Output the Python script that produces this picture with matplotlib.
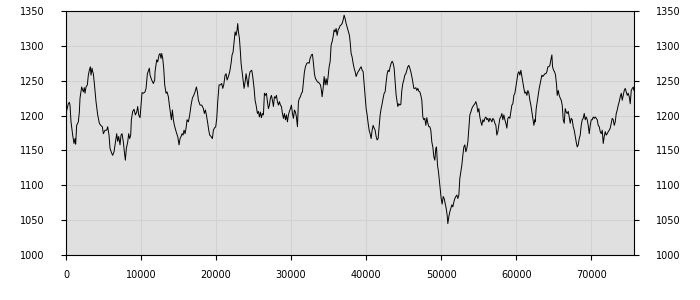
import matplotlib
matplotlib.use("Agg")
import matplotlib.pyplot as plt
import numpy as np

# ---- data ----
x_seg1 = [0, 311, 444, 533, 667, 889, 1067, 1200, 1289, 1422, 1644, 1778, 1867, 2089, 2311, 2444, 2533, 2667, 2844, 2978,
          3111, 3244, 3333, 3467, 3556, 3644, 3778, 4000, 4222, 4444, 4622, 4844, 4978, 5200, 5422, 5556, 5733, 5867, 6089, 6222,
          6400, 6533, 6667, 6756, 6889, 7022, 7200, 7333, 7467, 7644, 7778, 7911, 8044, 8222, 8356, 8489, 8622, 8711, 8889, 9067,
          9244, 9422, 9556, 9689, 9867, 10000, 10133, 10311, 10533, 10667, 10844, 10978, 11111, 11200, 11422, 11644, 11822]
y_seg1 = [1203, 1217, 1219, 1215, 1191, 1172, 1160, 1167, 1159, 1186, 1191, 1205, 1225, 1241, 1234, 1240, 1232, 1241, 1244, 1258,
          1265, 1270, 1258, 1268, 1263, 1260, 1246, 1220, 1201, 1189, 1186, 1184, 1174, 1179, 1179, 1184, 1172, 1153, 1146, 1143,
          1148, 1158, 1167, 1174, 1163, 1170, 1158, 1172, 1174, 1162, 1148, 1136, 1153, 1162, 1174, 1167, 1172, 1194, 1206, 1209,
          1201, 1205, 1213, 1201, 1197, 1215, 1233, 1232, 1234, 1239, 1260, 1264, 1268, 1258, 1251, 1246, 1251]

x_seg2 = [11867, 12089, 12222, 12400, 12533, 12667, 12756, 12889, 13022, 13156, 13333, 13467, 13644, 13778, 13911, 14044, 14178, 14311, 14444, 14622,
          14756, 14889, 15067, 15200, 15333, 15467, 15600, 15733, 15867, 16000, 16133, 16311, 16489, 16667, 16844, 17022, 17200, 17378, 17511, 17644,
          17867, 18089, 18311, 18444, 18578, 18711, 18889, 19022, 19156, 19333, 19511, 19644, 19778, 19956, 20089, 20222, 20400, 20578, 20756, 20889,
          21022, 21200, 21333, 21467, 21644, 21822, 22000, 22133, 22267, 22400, 22533, 22667, 22800, 22889, 22978, 23111, 23244, 23333, 23467, 23600,
          23733, 23867, 24000, 24133, 24267, 24400]
y_seg2 = [1263, 1280, 1277, 1287, 1289, 1282, 1289, 1282, 1268, 1244, 1232, 1234, 1227, 1215, 1205, 1194, 1208, 1194, 1186, 1179,
          1174, 1170, 1158, 1167, 1170, 1174, 1172, 1179, 1174, 1182, 1194, 1191, 1201, 1215, 1225, 1229, 1234, 1241, 1234, 1222,
          1215, 1215, 1210, 1203, 1208, 1201, 1189, 1179, 1172, 1170, 1167, 1179, 1182, 1184, 1196, 1220, 1244, 1244, 1246, 1239,
          1244, 1258, 1260, 1251, 1256, 1263, 1275, 1287, 1291, 1306, 1320, 1315, 1323, 1332, 1320, 1311, 1291, 1275, 1263, 1251,
          1239, 1248, 1260, 1251, 1241, 1256]

x_seg3 = [24533, 24756, 24889, 25067, 25200, 25333, 25511, 25644, 25778, 25911, 26044, 26178, 26311, 26444, 26578, 26711, 26844, 26978, 27111, 27244,
          27378, 27511, 27644, 27778, 27911, 28044, 28178, 28311, 28444, 28578, 28711, 28844, 28978, 29111, 29244, 29378, 29511, 29644, 29778, 29911,
          30044, 30178, 30311, 30444, 30578, 30711, 30844, 30978, 31111, 31244, 31378, 31511, 31644, 31778, 31911, 32089, 32267, 32400, 32533, 32711,
          32844, 32978, 33111, 33244, 33378, 33511, 33644, 33778, 33911, 34044, 34133, 34267, 34400, 34533, 34667, 34800, 34933, 35067, 35200, 35333,
          35467, 35600, 35733, 35867, 36000, 36133, 36267, 36400, 36533, 36667, 36800, 36933, 37067]
y_seg3 = [1263, 1265, 1256, 1239, 1222, 1215, 1203, 1206, 1198, 1205, 1197, 1203, 1201, 1232, 1229, 1232, 1220, 1210, 1215, 1225,
          1229, 1222, 1213, 1227, 1225, 1229, 1220, 1215, 1220, 1215, 1213, 1203, 1196, 1203, 1194, 1201, 1191, 1201, 1206, 1210,
          1215, 1203, 1196, 1208, 1205, 1198, 1184, 1220, 1225, 1227, 1232, 1234, 1248, 1263, 1270, 1275, 1276, 1275, 1282, 1287,
          1288, 1275, 1260, 1253, 1251, 1248, 1248, 1246, 1244, 1236, 1227, 1239, 1256, 1244, 1253, 1244, 1256, 1270, 1277, 1301,
          1306, 1313, 1323, 1320, 1325, 1315, 1323, 1325, 1329, 1330, 1332, 1337, 1344]

x_seg4 = [37200, 37333, 37467, 37644, 37778, 37867, 38000, 38133, 38267, 38400, 38533, 38667, 38800, 38933, 39067, 39200, 39333, 39467, 39600, 39733,
          39867, 40000, 40133, 40267, 40400, 40533, 40667, 40800, 40933, 41067, 41200, 41333, 41467, 41600, 41733, 41867, 42000, 42133, 42267, 42400,
          42533, 42667, 42800, 42933, 43067, 43200, 43333, 43467, 43600, 43733, 43867, 44000, 44133, 44222, 44356, 44489, 44622, 44756, 44889, 45022,
          45156, 45289, 45422, 45556, 45689, 45822, 45956, 46089, 46222, 46356, 46489, 46622, 46756, 46889, 47022, 47156, 47289, 47422, 47556, 47689,
          47822, 47956, 48089, 48222, 48356, 48489, 48622, 48756, 48889, 49022, 49156, 49289, 49378, 49511, 49644, 49778]
y_seg4 = [1339, 1332, 1327, 1320, 1315, 1306, 1289, 1284, 1275, 1268, 1263, 1256, 1260, 1263, 1265, 1268, 1270, 1265, 1263, 1246,
          1229, 1210, 1201, 1189, 1179, 1174, 1167, 1179, 1186, 1182, 1179, 1170, 1165, 1167, 1184, 1201, 1210, 1217, 1225, 1232,
          1234, 1248, 1260, 1265, 1263, 1270, 1275, 1278, 1275, 1268, 1248, 1229, 1220, 1213, 1217, 1215, 1216, 1236, 1246, 1251,
          1258, 1260, 1265, 1270, 1272, 1268, 1263, 1256, 1248, 1239, 1239, 1240, 1236, 1239, 1235, 1234, 1229, 1222, 1198, 1194,
          1196, 1186, 1197, 1189, 1184, 1184, 1179, 1162, 1155, 1141, 1136, 1153, 1155, 1129, 1119, 1105]

x_seg5 = [49867, 50000, 50133, 50267, 50400, 50533, 50667, 50800, 50889, 51022, 51156, 51289, 51422, 51556, 51689, 51822, 51956, 52089, 52222, 52356,
          52489, 52622, 52756, 52889, 53022, 53156, 53289, 53422, 53556, 53689, 53822, 53956, 54089, 54222, 54356, 54489, 54622, 54756, 54889, 55022,
          55156, 55289, 55422, 55556, 55689, 55822, 55956, 56089, 56222, 56356, 56489, 56622, 56756, 56889, 57022, 57156, 57289, 57422, 57556, 57689,
          57822, 57956, 58089, 58222, 58356, 58489, 58622, 58756, 58889, 59022, 59156, 59289, 59422, 59556, 59689, 59822, 59956, 60089, 60222, 60356,
          60489, 60622, 60756, 60889, 61022, 61156, 61289, 61422, 61556, 61689, 61822, 61956, 62089, 62222, 62356, 62489]
y_seg5 = [1096, 1081, 1073, 1084, 1081, 1074, 1067, 1057, 1045, 1055, 1062, 1067, 1072, 1069, 1076, 1081, 1084, 1086, 1081, 1086,
          1110, 1119, 1129, 1143, 1155, 1158, 1148, 1153, 1162, 1182, 1201, 1205, 1210, 1213, 1215, 1217, 1220, 1215, 1205, 1210,
          1198, 1191, 1186, 1194, 1191, 1196, 1198, 1194, 1196, 1191, 1196, 1194, 1191, 1196, 1194, 1189, 1186, 1172, 1177, 1186,
          1196, 1198, 1203, 1194, 1201, 1194, 1189, 1182, 1196, 1198, 1196, 1205, 1215, 1217, 1229, 1232, 1241, 1251, 1260, 1263,
          1258, 1265, 1256, 1248, 1239, 1232, 1234, 1229, 1236, 1232, 1222, 1215, 1205, 1194, 1186, 1194]

x_seg6 = [62533, 62667, 62800, 62933, 63067, 63200, 63333, 63422, 63556, 63689, 63822, 63956, 64089, 64222, 64356, 64489, 64622, 64756, 64844, 64978,
          65111, 65244, 65378, 65467, 65600, 65733, 65867, 66000, 66133, 66267, 66400, 66533, 66667, 66800, 66933, 67067, 67200, 67333, 67467, 67600,
          67733, 67867, 68000, 68133, 68267, 68400, 68533, 68667, 68800, 68933, 69067, 69200, 69333, 69467, 69600, 69733, 69867, 70000, 70133, 70267,
          70400, 70533, 70667, 70800, 70933, 71067, 71200, 71333, 71467, 71600, 71733, 71867, 72000, 72133, 72267, 72400, 72533, 72667, 72800, 72933,
          73067, 73200, 73333, 73467, 73600, 73733, 73867, 74000, 74133, 74267, 74400, 74533, 74667, 74800, 74933, 75067, 75200, 75333, 75467, 75600,
          75689]
y_seg6 = [1191, 1210, 1220, 1229, 1239, 1246, 1253, 1258, 1256, 1258, 1260, 1260, 1263, 1270, 1270, 1272, 1280, 1287, 1270, 1265,
          1263, 1258, 1244, 1229, 1236, 1229, 1225, 1222, 1215, 1194, 1189, 1210, 1205, 1203, 1206, 1198, 1189, 1196, 1194, 1184,
          1179, 1170, 1162, 1155, 1158, 1167, 1172, 1186, 1194, 1196, 1203, 1194, 1198, 1194, 1186, 1174, 1186, 1194, 1194, 1198,
          1196, 1198, 1196, 1194, 1186, 1184, 1177, 1174, 1179, 1160, 1170, 1177, 1172, 1174, 1177, 1179, 1182, 1189, 1196, 1194,
          1186, 1191, 1203, 1208, 1215, 1220, 1227, 1232, 1222, 1229, 1236, 1239, 1234, 1229, 1232, 1227, 1217, 1236, 1239, 1241,
          1236]

x_ticks = [0, 10000, 20000, 30000, 40000, 50000, 60000, 70000]
y_ticks = [1000, 1050, 1100, 1150, 1200, 1250, 1300, 1350]

x = x_seg1 + x_seg2 + x_seg3 + x_seg4 + x_seg5 + x_seg6
y = y_seg1 + y_seg2 + y_seg3 + y_seg4 + y_seg5 + y_seg6

plt.rcParams['font.family'] = ['DejaVu Sans']
fig = plt.figure(figsize=(7, 3), dpi=100)
fig.patch.set_facecolor('white')
ax = fig.add_axes([66/700, 1-255/300, (634-66)/700, (255-11)/300])
ax.set_facecolor('#e0e0e0')
ax.plot(x, y, color='black', linewidth=0.7)
ax.set_xlim(0, 75700)
ax.set_ylim(1000, 1350)
ax.set_xticks(x_ticks)
ax.set_yticks(y_ticks)
ax.set_xticklabels([str(v) for v in x_ticks])
ax.set_yticklabels([str(v) for v in y_ticks])
ax.grid(True, color='#d2d2d2', linewidth=0.8)
ax.set_axisbelow(True)
ax.tick_params(axis='both', labelsize=7, length=3.5, width=0.8, color='black')
ax.tick_params(axis='y', right=True, labelright=True, pad=12)
ax.tick_params(axis='x', pad=7)
for s in ax.spines.values():
    s.set_color('black')
    s.set_linewidth(0.8)
fig.savefig('out.png', dpi=100)
